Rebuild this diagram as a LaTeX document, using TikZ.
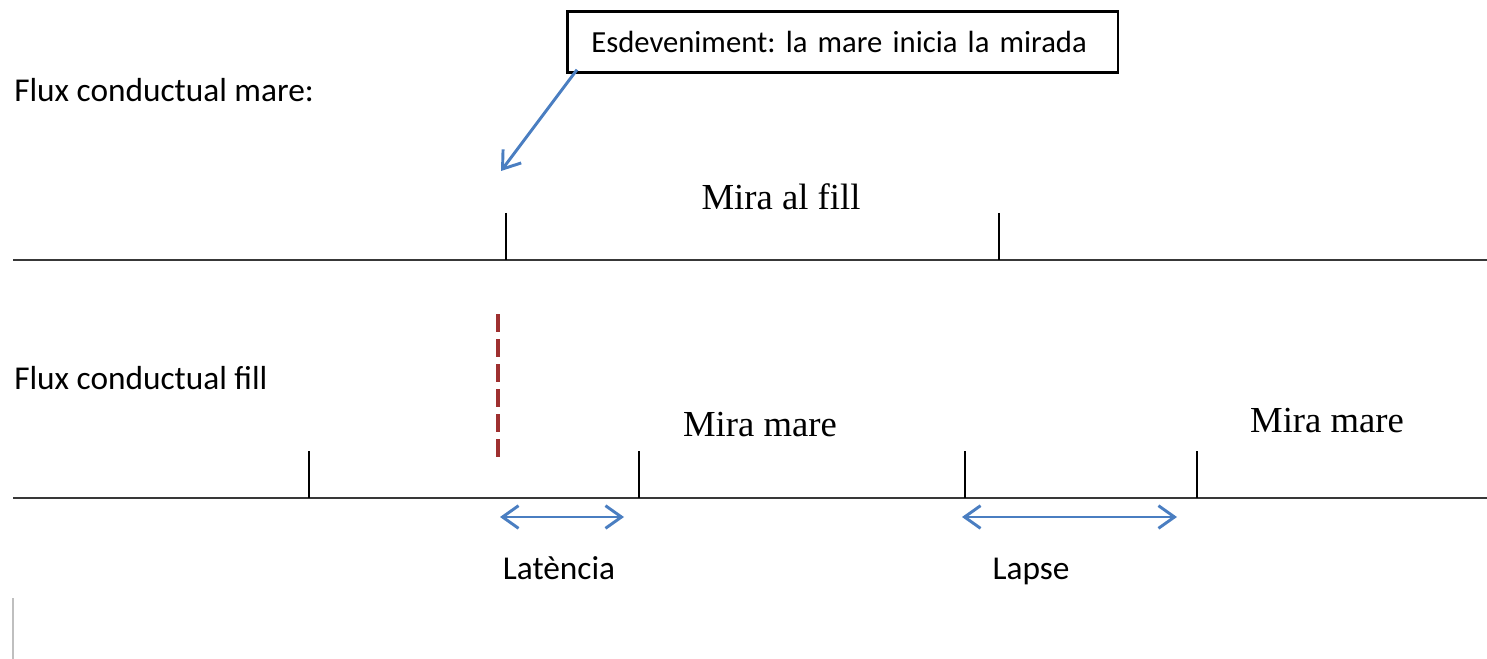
\documentclass[tikz,border=0pt]{standalone}
\usepackage{fontspec}
\setmainfont{Liberation Serif}
\newfontfamily\calfont{Carlito}
\usepackage{tikz}
\usetikzlibrary{arrows.meta}

\definecolor{barblue}{RGB}{74,126,193}
\definecolor{evred}{RGB}{158,48,48}

\tikzset{
  fluxlabel/.style={font=\calfont\fontsize{25}{30}\selectfont, inner sep=0.75pt, anchor=base west},
  spanlabel/.style={font=\calfont\fontsize{25}{30}\selectfont, inner sep=0.75pt, anchor=base},
  actlabel/.style={font=\fontsize{27.5}{33}\selectfont, inner sep=0.75pt, anchor=base},
  timeline/.style={draw=black!78, line width=1.5pt},
  tickline/.style={draw=black, line width=1pt},
  barb/.tip={Straight Barb[length=12pt,width=17pt]},
  spanarrow/.style={draw=barblue, line width=2.2pt, barb-barb},
}

\begin{document}
\frenchspacing
\begin{tikzpicture}[x=0.75pt,y=0.75pt,yscale=-1,xscale=1]
\useasboundingbox (0,0) rectangle (1487,659);

% Event box and its pointer
\node [draw, line width=2pt, anchor=north west, inner xsep=18pt, inner ysep=0pt,
       minimum height=45.75pt, text width=377pt, align=left,
       font=\calfont\fontsize{23}{28}\selectfont] (ev) at (566,10)
      {\mbox{Esdeveniment: la mare inicia la mirada}};
\coordinate (evhead) at (501,171);
\draw [draw=barblue, line width=2.2pt, -barb] ([xshift=8.25pt,yshift=-3pt]ev.south west) -- (evhead);

% Mother's stream
\node [fluxlabel] (fmare) at (13,102) {Flux conductual mare:};
\coordinate (m0) at (13,260);
\coordinate (m1) at (1487,260);
\draw [timeline] (m0) -- (m1);
\draw [tickline] (506,213) -- (506,260);
\draw [tickline] (999,213) -- (999,260);
\node [actlabel] (mfill) at (781,210) {Mira al fill};

% Event mark
\draw [draw=evred, line width=2.4pt, dash pattern=on 13.5pt off 5.25pt] (498,314) -- (498,459);

% Child's stream
\node [fluxlabel] (ffill) at (13,389) {Flux conductual fill};
\coordinate (f0) at (13,498);
\coordinate (f1) at (1487,498);
\draw [timeline] (f0) -- (f1);
\draw [tickline] (309,451) -- (309,498);
\draw [tickline] (639,451) -- (639,498);
\draw [tickline] (965,451) -- (965,498);
\draw [tickline] (1197,451) -- (1197,498);
\node [actlabel] (mmare1) at (760,436) {Mira mare};
\node [actlabel] (mmare2) at (1327,432) {Mira mare};

% Latency and gap
\coordinate (lat0) at (500,517);
\coordinate (lat1) at (624,517);
\coordinate (lap0) at (962,517);
\coordinate (lap1) at (1177,517);
\draw [spanarrow] (lat0) -- (lat1);
\draw [spanarrow] (lap0) -- (lap1);
\node [spanlabel] (latencia) at (559,579) {Latència};
\node [spanlabel] (lapse) at (1031,579) {Lapse};

% Cursor
\draw [draw=black!25, line width=1.4pt] (13,598) -- (13,659);

\end{tikzpicture}
\end{document}
